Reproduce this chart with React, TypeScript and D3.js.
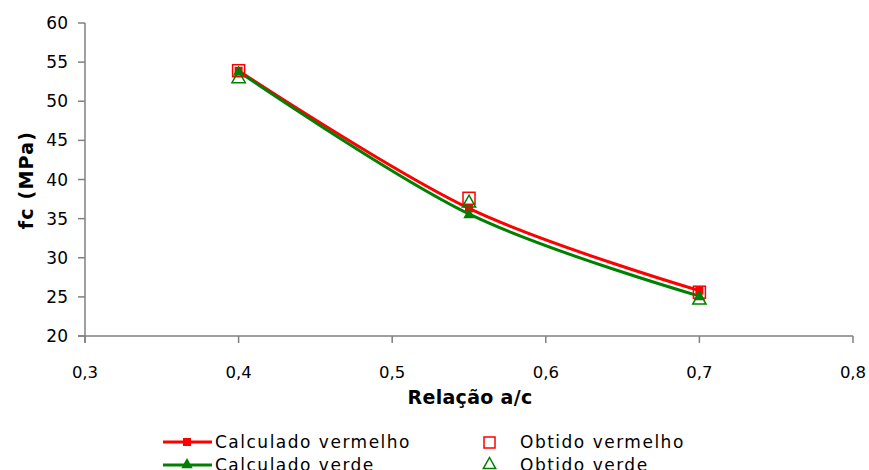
import React from "react";
import * as d3 from "d3";

const xValues = [0.4, 0.55, 0.7];
const calcVermelho = [53.9, 36.3, 25.8];
const obtVermelho = [53.9, 37.6, 25.6];
const calcVerde = [53.8, 35.6, 25.1];
const obtVerde = [53.0, 37.1, 24.7];
const xTicks = [0.3, 0.4, 0.5, 0.6, 0.7, 0.8];
const yTicks = [20, 25, 30, 35, 40, 45, 50, 55, 60];

const W = 869, H = 470;
const RED = "#FF0000", GREEN = "#008000", AXIS = "#808080";
const FONT = "'DejaVu Sans', sans-serif";

export default function App() {
  const x = d3.scaleLinear().domain([0.3, 0.8]).range([85, 853]);
  const y = d3.scaleLinear().domain([20, 60]).range([336, 23]);
  const line = d3
    .line<[number, number]>()
    .x((d) => x(d[0]))
    .y((d) => y(d[1]))
    .curve(d3.curveCardinal.tension(0));
  const pts = (vals: number[]) => xValues.map((v, i) => [v, vals[i]] as [number, number]);
  const tri = (cx: number, cy: number, s: number) =>
    `M${cx},${cy - s}L${cx + s * 0.95},${cy + s * 0.7}L${cx - s * 0.95},${cy + s * 0.7}Z`;
  const fmt = (v: number) => v.toFixed(1).replace(".", ",");

  return (
    <svg width={W} height={H} style={{ position: "absolute", left: 0, top: 0, background: "#fff" }}>
      {/* axes */}
      <line x1={85} x2={85} y1={23} y2={343} stroke={AXIS} strokeWidth={1.5} />
      <line x1={78} x2={853} y1={336} y2={336} stroke={AXIS} strokeWidth={1.5} />
      {yTicks.map((t) => (
        <g key={"y" + t}>
          <line x1={78} x2={85} y1={y(t)} y2={y(t)} stroke={AXIS} strokeWidth={1.5} />
          <text x={68} y={y(t)} dy="0.36em" textAnchor="end" fontFamily={FONT} fontSize={17} fill="#000">
            {t}
          </text>
        </g>
      ))}
      {xTicks.map((t) => (
        <g key={"x" + t}>
          <line x1={x(t)} x2={x(t)} y1={336} y2={343} stroke={AXIS} strokeWidth={1.5} />
          <text x={x(t)} y={378} textAnchor="middle" fontFamily={FONT} fontSize={16.5} fill="#000">
            {fmt(t)}
          </text>
        </g>
      ))}
      <text x={470} y={404} textAnchor="middle" fontFamily={FONT} fontSize={19} fontWeight="bold" letterSpacing={0.3}>
        Relação a/c
      </text>
      <text
        transform={`translate(33,180) rotate(-90)`}
        textAnchor="middle"
        fontFamily={FONT}
        fontSize={19}
        fontWeight="bold"
        letterSpacing={1.2}
      >
        fc (MPa)
      </text>

      {/* lines */}
      <path d={line(pts(calcVermelho)) || ""} fill="none" stroke={RED} strokeWidth={3} />
      <path d={line(pts(calcVerde)) || ""} fill="none" stroke={GREEN} strokeWidth={3} />

      {/* markers */}
      {pts(calcVermelho).map((p, i) => (
        <rect key={"cr" + i} x={x(p[0]) - 4} y={y(p[1]) - 4} width={8} height={8} fill={RED} />
      ))}
      {pts(obtVermelho).map((p, i) => (
        <rect key={"or" + i} x={x(p[0]) - 6} y={y(p[1]) - 6} width={12} height={12} fill="none" stroke={RED} strokeWidth={1.5} />
      ))}
      {pts(calcVerde).map((p, i) => (
        <path key={"cg" + i} d={tri(x(p[0]), y(p[1]), 6)} fill={GREEN} />
      ))}
      {pts(obtVerde).map((p, i) => (
        <path key={"og" + i} d={tri(x(p[0]), y(p[1]), 7)} fill="none" stroke={GREEN} strokeWidth={1.5} />
      ))}

      {/* legend */}
      <line x1={163} x2={212} y1={442} y2={442} stroke={RED} strokeWidth={3} />
      <rect x={183} y={438} width={8} height={8} fill={RED} />
      <text x={215} y={442} dy="0.36em" fontFamily={FONT} fontSize={17} letterSpacing={1.5}>Calculado vermelho</text>
      <line x1={163} x2={212} y1={465} y2={465} stroke={GREEN} strokeWidth={3} />
      <path d={tri(187, 464, 6)} fill={GREEN} />
      <text x={215} y={465} dy="0.36em" fontFamily={FONT} fontSize={17} letterSpacing={1.5}>Calculado verde</text>
      <rect x={484} y={437} width={11} height={11} fill="none" stroke={RED} strokeWidth={1.5} />
      <text x={520} y={442} dy="0.36em" fontFamily={FONT} fontSize={17} letterSpacing={1.5}>Obtido vermelho</text>
      <path d={tri(489.5, 464, 6.5)} fill="none" stroke={GREEN} strokeWidth={1.5} />
      <text x={520} y={465} dy="0.36em" fontFamily={FONT} fontSize={17} letterSpacing={1.5}>Obtido verde</text>
    </svg>
  );
}
